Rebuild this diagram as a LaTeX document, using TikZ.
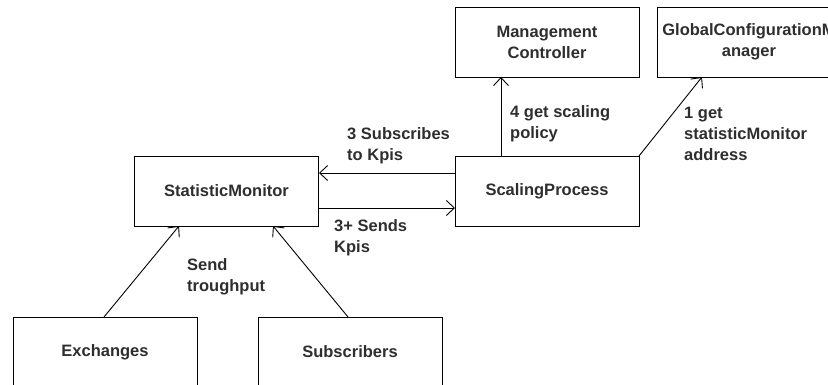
\documentclass[tikz,border=0pt]{standalone}
\usepackage{fontspec}
\setmainfont{Liberation Sans}
\usetikzlibrary{arrows.meta}
\definecolor{txt}{HTML}{2E2E2E}
\begin{document}
\begin{tikzpicture}[x=1pt,y=-1pt,
  box/.style={draw=black,line width=0.9pt,minimum width=184pt,minimum height=70pt,
    inner sep=0pt,align=center,text=txt,font=\fontsize{16.5}{21}\selectfont\bfseries},
  lbl/.style={anchor=west,inner sep=0pt,align=left,text=txt,
    font=\fontsize{16.5}{21}\selectfont\bfseries},
  conn/.style={draw=black,line width=0.9pt,-{Straight Barb[length=8pt,width=15pt,line width=0.9pt]}}]
  \useasboundingbox (0,0) rectangle (828,385);
  \fill[white] (0,0) rectangle (828,385);

  % components
  \node[box] (mc)  at (547,42)  {Management\\Controller};
  \node[box] (gcm) at (749,42)  {GlobalConfigurationM\\anager};
  \node[box] (sp)  at (547,191.5) {ScalingProcess};
  \node[box] (sm)  at (226.5,191) {StatisticMonitor};
  \node[box] (ex)  at (105,352) {Exchanges};
  \node[box] (sub) at (350,352) {Subscribers};

  % anchor points on the box borders
  \coordinate (spL1) at (455,173);
  \coordinate (smR1) at (319,173);
  \coordinate (smR2) at (319,208);
  \coordinate (spL2) at (455,208);
  \coordinate (spT)  at (501,156);
  \coordinate (mcB)  at (501,77);
  \coordinate (spTR) at (639,156);
  \coordinate (gcmB) at (702,77);
  \coordinate (exT)  at (104,317);
  \coordinate (smB1) at (179,226);
  \coordinate (subT) at (348,317);
  \coordinate (smB2) at (273,226);

  % connectors
  \draw[conn] (spL1) -- (smR1);
  \draw[conn] (smR2) -- (spL2);
  \draw[conn] (spT) -- (mcB);
  \draw[conn] (spTR) -- (gcmB);
  \draw[conn] (exT) -- (smB1);
  \draw[conn] (subT) -- (smB2);

  % connector labels
  \node[lbl] (l1) at (347,146) {3 Subscribes\\to Kpis};
  \node[lbl] (l2) at (334,238) {3+ Sends\\Kpis};
  \node[lbl] (l3) at (187,277) {Send\\troughput};
  \node[lbl] (l4) at (510,124) {4 get scaling\\policy};
  \node[lbl] (l5) at (684,134) {1 get\\statisticMonitor\\address};
\end{tikzpicture}
\end{document}
